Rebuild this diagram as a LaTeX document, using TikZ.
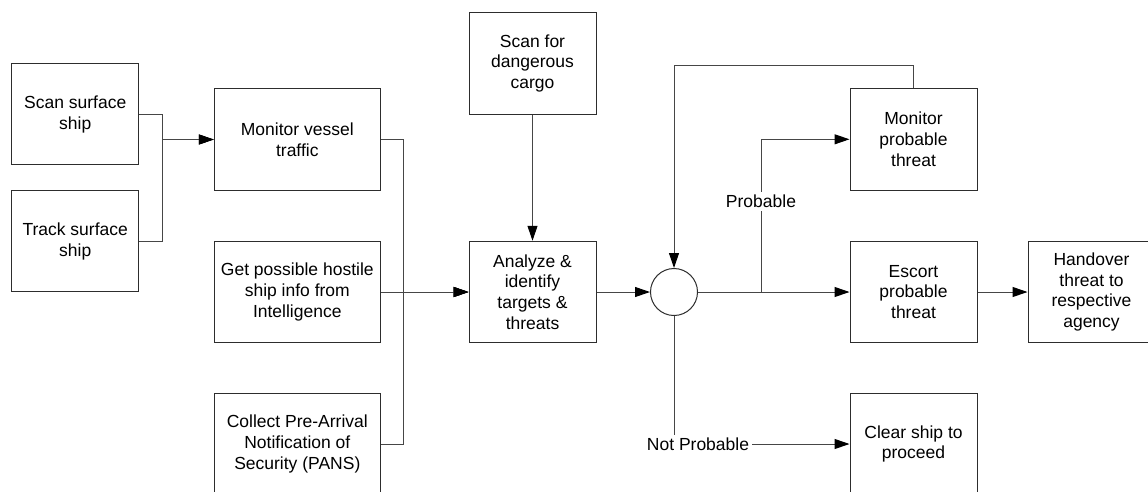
\documentclass[tikz,border=0pt]{standalone}
\usepackage{fontspec}
\setmainfont{Liberation Sans}
\usetikzlibrary{arrows.meta}
\definecolor{boxline}{RGB}{45,45,45}
\definecolor{connline}{RGB}{70,70,70}
\tikzset{
  stepbox/.style={draw=boxline, line width=1pt, fill=white, minimum width=127pt, minimum height=101.5pt,
    inner sep=0pt, align=center, font=\fontsize{17.5pt}{20.8pt}\selectfont},
  widebox/.style={stepbox, minimum width=166pt},
  junction/.style={draw=boxline, line width=1pt, circle, minimum size=47pt, inner sep=0pt, fill=white},
  arr/.style={draw=connline, line width=1pt, -{Triangle[length=15pt,width=10pt,fill=black,color=black]}},
  lbl/.style={fill=white, inner sep=3pt, font=\fontsize{17.5pt}{20.8pt}\selectfont}
}
\begin{document}
\begin{tikzpicture}[x=1pt,y=-1pt]
\useasboundingbox (0,0) rectangle (1148,491);
\clip (0,0) rectangle (1148,491);
\fill[white] (0,0) rectangle (1148,491);

% boxes
\node[stepbox] (scan)  at (75.2,114.2) {Scan surface\\ship};
\node[stepbox] (track) at (75.2,241.2) {Track surface\\ship};
\node[widebox] (monv)  at (297.3,139.5) {Monitor vessel\\traffic};
\node[widebox] (getp)  at (297.3,292) {Get possible hostile\\ship info from\\Intelligence};
\node[widebox] (coll)  at (297.3,444) {Collect Pre-Arrival\\Notification of\\Security (PANS)};
\node[stepbox] (cargo) at (532.5,63.3) {Scan for\\dangerous\\cargo};
\node[stepbox] (anal)  at (532.5,292) {Analyze \&\\identify\\targets \&\\threats};
\node[junction] (circ) at (674,292) {};
\node[stepbox] (monp)  at (913.5,139.3) {Monitor\\probable\\threat};
\node[stepbox] (esc)   at (913.5,292) {Escort\\probable\\threat};
\node[stepbox] (hand)  at (1091.5,292) {Handover\\threat to\\respective\\agency};
\node[stepbox] (clear) at (913.5,444) {Clear ship to\\proceed};

% junction points
\coordinate (j1) at (162.7,139.5);
\coordinate (j2) at (403.3,292);
\coordinate (j3) at (761,292);
\coordinate (top) at (913.5,65);

% connectors
\draw[arr] (scan.east) -| (j1) -- (monv.west);
\draw[arr] (track.east) -| (j1) -- (monv.west);
\draw[arr] (monv.east) -| (j2) -- (anal.west);
\draw[arr] (coll.east) -| (j2) -- (anal.west);
\draw[arr] (getp.east) -- (anal.west);
\draw[arr] (cargo.south) -- (anal.north);
\draw[arr] (anal.east) -- (circ.west);
\draw[arr] (circ.east) -- (esc.west);
\draw[arr] (j3) |- (monp.west);
\draw[arr] (esc.east) -- (hand.west);
\draw[arr] (monp.north) -- (top) -| (circ.north);
\draw[arr] (circ.south) |- (clear.west);

% labels
\node[lbl] (lprob) at (761,201.5) {Probable};
\node[lbl] (lnot) at (698,444) {Not Probable};
\end{tikzpicture}
\end{document}
